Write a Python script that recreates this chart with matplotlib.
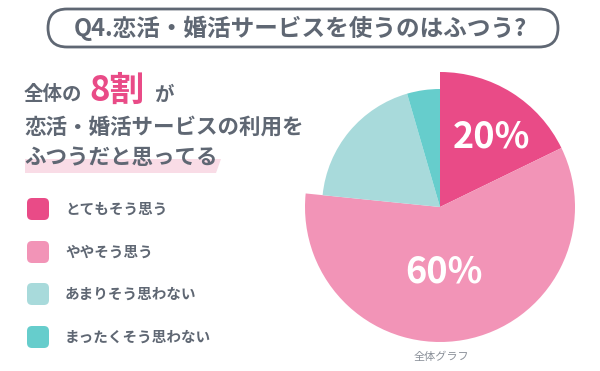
import matplotlib
matplotlib.use("Agg")
import matplotlib.pyplot as plt
from matplotlib.patches import FancyBboxPatch, Polygon

plt.rcParams['font.family'] = ['Noto Sans CJK JP', 'DejaVu Sans']

# data
categories = ['とてもそう思う', 'ややそう思う', 'あまりそう思わない', 'まったくそう思わない']
shares = [17.8, 58.8, 18.9, 4.5]
colors = ['#E94B87', '#F294B7', '#A8DADB', '#66CDCC']
pct_labels = ['20%', '60%', '', '']
title = 'Q4.恋活・婚活サービスを使うのはふつう?'
caption = '全体グラフ'

GRAY = '#5F6773'
H = 371

fig = plt.figure(figsize=(6, 3.71), dpi=100)
ax = fig.add_axes([0, 0, 1, 1])

# pie, outer two slices bigger than the teal ones
wedges, _ = ax.pie(shares, colors=colors, startangle=90, counterclock=False,
                   center=(440, H - 207), radius=135,
                   wedgeprops=dict(linewidth=0))
for w in wedges[2:]:
    w.set_radius(118)

ax.set_xlim(0, 600)
ax.set_ylim(0, H)
ax.set_aspect('auto')
ax.axis('off')

ax.text(491, H - 137, pct_labels[0], color='white', fontsize=26, fontweight='bold',
        ha='center', va='center')
ax.text(444, H - 272, pct_labels[1], color='white', fontsize=26, fontweight='bold',
        ha='center', va='center')
ax.text(441, H - 357, caption, color='#8A9099', fontsize=8, ha='center', va='center')

# title box
box = FancyBboxPatch((48, H - 47), 510, 38, boxstyle='round,pad=0,rounding_size=19',
                     fc='white', ec=GRAY, lw=2)
ax.add_patch(box)
ax.text(300, H - 28, title, color=GRAY, fontsize=17, fontweight='bold',
        ha='center', va='center')

# headline
band = Polygon([(25, H - 159), (221, H - 159), (216, H - 173), (25, H - 173)],
               closed=True, fc='#F9DCE6', ec='none')
ax.add_patch(band)
ax.text(24, H - 95, '全体の', color=GRAY, fontsize=14, fontweight='bold', va='center')
ax.text(89, H - 90, '8割', color='#E94B87', fontsize=25, fontweight='bold', va='center')
ax.text(154, H - 95, 'が', color=GRAY, fontsize=14, fontweight='bold', va='center')
ax.text(24, H - 127, '恋活・婚活サービスの利用を', color=GRAY, fontsize=15.5,
        fontweight='bold', va='center')
ax.text(24, H - 158, 'ふつうだと思ってる', color=GRAY, fontsize=15.5,
        fontweight='bold', va='center')

# legend
ys = [209, 252, 294, 337]
for cat, col, y in zip(categories, colors, ys):
    ax.add_patch(FancyBboxPatch((27, H - y - 11), 22, 22,
                                boxstyle='round,pad=0,rounding_size=5',
                                fc=col, ec='none'))
    ax.text(65, H - y, cat, color=GRAY, fontsize=10.5, fontweight='bold', va='center')

fig.savefig('out.png', dpi=100, facecolor='white')
